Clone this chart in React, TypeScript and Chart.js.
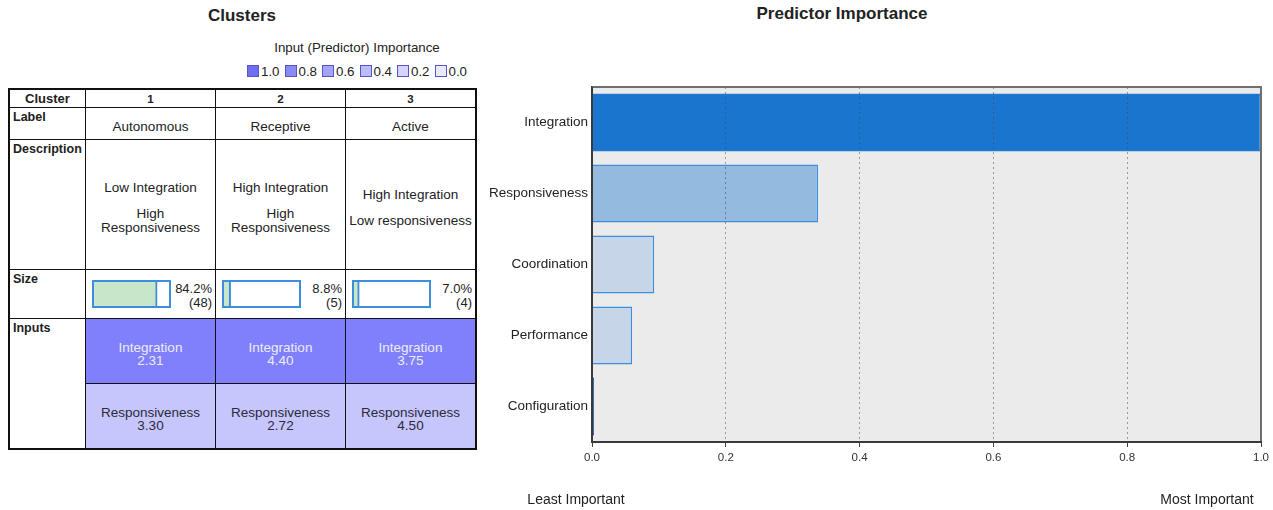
import React, { useEffect, useRef } from "react";
import { Chart, registerables } from "chart.js";

Chart.register(...registerables);

// ---------- data ----------
const clusterIds = ["1", "2", "3"];
const clusterLabels = ["Autonomous", "Receptive", "Active"];
const clusterDescriptions = [
  ["Low Integration", "High\nResponsiveness"],
  ["High Integration", "High\nResponsiveness"],
  ["High Integration", "Low responsiveness"],
];
const clusterSizePct = [84.2, 8.8, 7.0];
const clusterSizeN = [48, 5, 4];
const integrationMeans = ["2.31", "4.40", "3.75"];
const responsivenessMeans = ["3.30", "2.72", "4.50"];
const legendLevels = ["1.0", "0.8", "0.6", "0.4", "0.2", "0.0"];

const predictors = ["Integration", "Responsiveness", "Coordination", "Performance", "Configuration"];
const importance = [1.0, 0.338, 0.093, 0.06, 0.003];

// ---------- styles ----------
const FONT = "'Liberation Sans', Arial, Helvetica, sans-serif";
const legendColors = ["#6e6ef0", "#8a8af5", "#a4a4f8", "#bcbcfb", "#d4d4fc", "#e8e8fe"];
const barFill = ["#1a75cf", "#95bae0", "#c6d6e8", "#c6d6e8", "#1a4fa0"];
const barBorder = ["#1f7ad6", "#3d8ede", "#3d8ede", "#3d8ede", "#1a4fa0"];

const colX = [9, 85, 215, 345, 475];
const rowY = [89, 107, 139, 269, 318, 383, 448];
const FS = 13.5;

function Cell(props: any) {
  const { x0, x1, y0, y1, bg, style, children } = props;
  return (
    <div
      style={{
        position: "absolute",
        left: x0,
        top: y0,
        width: x1 - x0 + 1,
        height: y1 - y0 + 1,
        border: "1px solid #111",
        boxSizing: "border-box",
        background: bg || "#fff",
        ...style,
      }}
    >
      {children}
    </div>
  );
}

function MiniBar({ value }: { value: number }) {
  const ref = useRef<HTMLCanvasElement>(null);
  useEffect(() => {
    const chart = new Chart(ref.current!, {
      type: "bar",
      data: {
        labels: [""],
        datasets: [
          {
            data: [value],
            backgroundColor: "#c8e6c9",
            borderColor: "#3d8fdc",
            borderWidth: { top: 0, right: 2, bottom: 0, left: 0 } as any,
            borderSkipped: false,
            barPercentage: 1,
            categoryPercentage: 1,
          },
        ],
      },
      options: {
        indexAxis: "y",
        responsive: true,
        maintainAspectRatio: false,
        animation: false,
        layout: { padding: 0 },
        plugins: { legend: { display: false }, tooltip: { enabled: false } },
        scales: {
          x: { display: false, min: 0, max: 100 },
          y: { display: false },
        },
      },
    });
    return () => chart.destroy();
  }, [value]);
  return (
    <div style={{ position: "absolute", left: 0, top: 0, right: 0, bottom: 0 }}>
      <canvas ref={ref} />
    </div>
  );
}

function ImportanceChart() {
  const ref = useRef<HTMLCanvasElement>(null);
  useEffect(() => {
    const framePlugin = {
      id: "frame",
      beforeDraw(chart: any) {
        const { ctx, chartArea } = chart;
        if (!chartArea) return;
        ctx.save();
        ctx.fillStyle = "#ebebeb";
        ctx.fillRect(chartArea.left, chartArea.top, chartArea.right - chartArea.left, chartArea.bottom - chartArea.top);
        ctx.restore();
      },
      afterDraw(chart: any) {
        const { ctx, chartArea } = chart;
        if (!chartArea) return;
        const l = chartArea.left;
        const t = chartArea.top;
        const r = chartArea.right;
        const b = chartArea.bottom;
        ctx.save();
        ctx.setLineDash([]);
        ctx.strokeStyle = "#707070";
        ctx.lineWidth = 2;
        ctx.beginPath();
        ctx.moveTo(l, t);
        ctx.lineTo(r, t);
        ctx.lineTo(r, b);
        ctx.stroke();
        ctx.strokeStyle = "#3a3a3a";
        ctx.beginPath();
        ctx.moveTo(l, t);
        ctx.lineTo(l, b);
        ctx.lineTo(r + 1, b);
        ctx.stroke();
        ctx.restore();
      },
    };
    const chart = new Chart(ref.current!, {
      type: "bar",
      data: {
        labels: predictors,
        datasets: [
          {
            data: importance,
            backgroundColor: barFill,
            borderColor: barBorder,
            borderWidth: 1.5,
            barPercentage: 0.82,
            categoryPercentage: 1,
          },
        ],
      },
      options: {
        indexAxis: "y",
        responsive: true,
        maintainAspectRatio: false,
        animation: false,
        layout: { padding: { top: 87, right: 12, left: 0, bottom: 0 } },
        plugins: { legend: { display: false }, tooltip: { enabled: false }, title: { display: false } },
        scales: {
          x: {
            min: 0,
            max: 1,
            ticks: {
              stepSize: 0.2,
              padding: 4,
              color: "#333",
              font: { family: FONT, size: 11.5 },
              callback: (v: any) => Number(v).toFixed(1),
            },
            grid: {
              color: "rgba(70,70,70,0.5)",
              lineWidth: 1,
              tickColor: "#444",
              tickLength: 5,
              z: 1,
            } as any,
            border: { display: true, color: "#3a3a3a", width: 2, dash: [2, 3], z: 1 } as any,
            afterFit: (s: any) => {
              s.height = 68;
            },
          },
          y: {
            grid: { display: false, drawTicks: false },
            border: { display: true, color: "#3a3a3a", width: 2, z: 1 } as any,
            ticks: {
              padding: 4,
              color: "#222",
              font: { family: FONT, size: 13.5 },
            },
            afterFit: (s: any) => {
              s.width = 112;
            },
          },
        },
      },
      plugins: [framePlugin],
    });
    return () => chart.destroy();
  }, []);
  return <canvas ref={ref} />;
}

export default function App() {
  const txt: React.CSSProperties = { fontFamily: FONT, color: "#222" };
  const rowLabel: React.CSSProperties = {
    ...txt,
    fontWeight: "bold",
    fontSize: 12.5,
    padding: "2px 3px",
  };
  const centerFlex: React.CSSProperties = {
    display: "flex",
    flexDirection: "column",
    alignItems: "center",
    justifyContent: "center",
    textAlign: "center",
  };
  return (
    <div
      style={{
        position: "absolute",
        left: 0,
        top: 0,
        width: 1273,
        height: 510,
        background: "#fff",
        overflow: "hidden",
        fontFamily: FONT,
      }}
    >
      {/* Left titles */}
      <div style={{ ...txt, position: "absolute", left: 142, width: 200, top: 6, textAlign: "center", fontWeight: "bold", fontSize: 17 }}>
        Clusters
      </div>
      <div style={{ ...txt, position: "absolute", left: 207, width: 300, top: 40, textAlign: "center", fontSize: 13.3 }}>
        Input (Predictor) Importance
      </div>
      <div style={{ position: "absolute", left: 247, top: 63, display: "flex", alignItems: "center", height: 16 }}>
        {legendLevels.map((l, i) => (
          <div key={l} style={{ display: "flex", alignItems: "center", marginRight: 5 }}>
            <div
              style={{
                width: 12,
                height: 12,
                boxSizing: "border-box",
                border: "1px solid #5555c8",
                background: legendColors[i],
                marginRight: 2,
              }}
            />
            <span style={{ ...txt, fontSize: 13.3 }}>{l}</span>
          </div>
        ))}
      </div>

      {/* Table: header row */}
      <Cell x0={colX[0]} x1={colX[1]} y0={rowY[0]} y1={rowY[1]} style={{ ...centerFlex }}>
        <span style={{ ...txt, fontWeight: "bold", fontSize: 13 }}>Cluster</span>
      </Cell>
      {clusterIds.map((id, i) => (
        <Cell key={"h" + i} x0={colX[i + 1]} x1={colX[i + 2]} y0={rowY[0]} y1={rowY[1]} style={centerFlex}>
          <span style={{ ...txt, fontWeight: "bold", fontSize: 11.5 }}>{id}</span>
        </Cell>
      ))}

      {/* Label row */}
      <Cell x0={colX[0]} x1={colX[1]} y0={rowY[1]} y1={rowY[2]}>
        <div style={rowLabel}>Label</div>
      </Cell>
      {clusterLabels.map((l, i) => (
        <Cell key={"l" + i} x0={colX[i + 1]} x1={colX[i + 2]} y0={rowY[1]} y1={rowY[2]} style={{ ...centerFlex, paddingTop: 5 }}>
          <span style={{ ...txt, fontSize: FS }}>{l}</span>
        </Cell>
      ))}

      {/* Description row */}
      <Cell x0={colX[0]} x1={colX[1]} y0={rowY[2]} y1={rowY[3]}>
        <div style={rowLabel}>Description</div>
      </Cell>
      {clusterDescriptions.map((d, i) => (
        <Cell key={"d" + i} x0={colX[i + 1]} x1={colX[i + 2]} y0={rowY[2]} y1={rowY[3]} style={{ ...centerFlex, paddingTop: 6 }}>
          {d.map((p, j) => (
            <div
              key={j}
              style={{ ...txt, fontSize: FS, lineHeight: "14px", whiteSpace: "pre", marginTop: j > 0 ? 12 : 0 }}
            >
              {p}
            </div>
          ))}
        </Cell>
      ))}

      {/* Size row */}
      <Cell x0={colX[0]} x1={colX[1]} y0={rowY[3]} y1={rowY[4]}>
        <div style={rowLabel}>Size</div>
      </Cell>
      {clusterSizePct.map((p, i) => (
        <Cell key={"s" + i} x0={colX[i + 1]} x1={colX[i + 2]} y0={rowY[3]} y1={rowY[4]}>
          <div
            style={{
              position: "absolute",
              left: 6,
              top: 10,
              width: 79,
              height: 28,
              border: "2px solid #3d8fdc",
              boxSizing: "border-box",
              background: "#fff",
            }}
          >
            <div style={{ position: "absolute", left: 0, top: 0, right: 0, bottom: 0 }}>
              <MiniBar value={p} />
            </div>
          </div>
          <div
            style={{
              ...txt,
              position: "absolute",
              right: 3,
              top: 12,
              fontSize: 13,
              lineHeight: "14px",
              textAlign: "right",
            }}
          >
            {p.toFixed(1) + "%"}
            <br />
            {"(" + clusterSizeN[i] + ")"}
          </div>
        </Cell>
      ))}

      {/* Inputs rows */}
      <Cell x0={colX[0]} x1={colX[1]} y0={rowY[4]} y1={rowY[6]}>
        <div style={rowLabel}>Inputs</div>
      </Cell>
      {integrationMeans.map((m, i) => (
        <Cell key={"i" + i} x0={colX[i + 1]} x1={colX[i + 2]} y0={rowY[4]} y1={rowY[5]} bg="#8080fd" style={{ ...centerFlex, paddingTop: 6 }}>
          <div style={{ fontFamily: FONT, color: "#ececff", fontSize: FS, lineHeight: "13px" }}>
            Integration
            <br />
            {m}
          </div>
        </Cell>
      ))}
      {responsivenessMeans.map((m, i) => (
        <Cell key={"r" + i} x0={colX[i + 1]} x1={colX[i + 2]} y0={rowY[5]} y1={rowY[6]} bg="#c6c6fd" style={{ ...centerFlex, paddingTop: 6 }}>
          <div style={{ fontFamily: FONT, color: "#2a2a3a", fontSize: FS, lineHeight: "13px" }}>
            Responsiveness
            <br />
            {m}
          </div>
        </Cell>
      ))}

      {/* outer frame */}
      <div
        style={{
          position: "absolute",
          left: 8,
          top: 88,
          width: 469,
          height: 362,
          border: "2px solid #111",
          boxSizing: "border-box",
          pointerEvents: "none",
        }}
      />

      {/* Right chart */}
      <div style={{ ...txt, position: "absolute", left: 692, width: 300, top: 4, textAlign: "center", fontWeight: "bold", fontSize: 17 }}>
        Predictor Importance
      </div>
      <div style={{ position: "absolute", left: 480, top: 0, width: 793, height: 510 }}>
        <ImportanceChart />
      </div>
      <div style={{ ...txt, position: "absolute", left: 476, width: 200, top: 491, textAlign: "center", fontSize: 14 }}>
        Least Important
      </div>
      <div style={{ ...txt, position: "absolute", left: 1107, width: 200, top: 491, textAlign: "center", fontSize: 14 }}>
        Most Important
      </div>
    </div>
  );
}
